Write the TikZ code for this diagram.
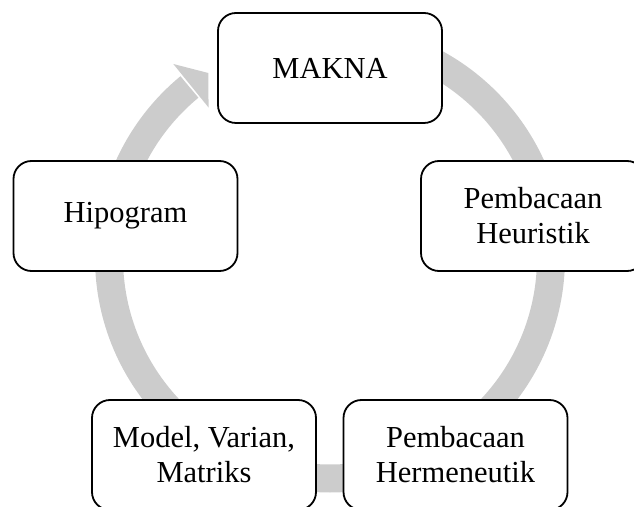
\documentclass[tikz,border=0pt]{standalone}
\usepackage{fontspec}
\setmainfont{Liberation Serif}
\usepackage{tikz}
\usetikzlibrary{shapes,positioning,calc}
\definecolor{ringgray}{RGB}{204,204,204}
\tikzstyle{stage} = [draw, rectangle, rounded corners=18pt, line width=1.8pt, fill=white,
    minimum height=110pt, minimum width=224pt, inner sep=0pt, text=black, align=center,
    font=\fontsize{30.5}{35}\selectfont]
\tikzstyle{ring} = [draw=ringgray, line width=28pt]

\begin{document}
\begin{tikzpicture}[x=1pt, y=1pt]
    \path [use as bounding box, clip] (0,0) rectangle (634,506);
    \coordinate (hub) at (330,248.5);

    % cycle arrow, drawn first so the boxes sit on it
    \draw [ring] (hub) ++(90:221) arc [start angle=90, end angle=-230.5, radius=221pt];
    \fill [ringgray] ([shift={(129:249)}]hub) -- ([shift={(123.4:221)}]hub)
        -- ([shift={(129:193)}]hub) -- cycle;

    \node [stage] (makna) at (330,438) {MAKNA};
    \node [stage] (heur) at (533,290) {Pembacaan\\Heuristik};
    \node [stage] (herm) at (455.5,51) {Pembacaan\\Hermeneutik};
    \node [stage] (model) at (204,51) {Model, Varian,\\Matriks};
    \node [stage] (hipo) at (125.5,290) {Hipogram};
\end{tikzpicture}
\end{document}
